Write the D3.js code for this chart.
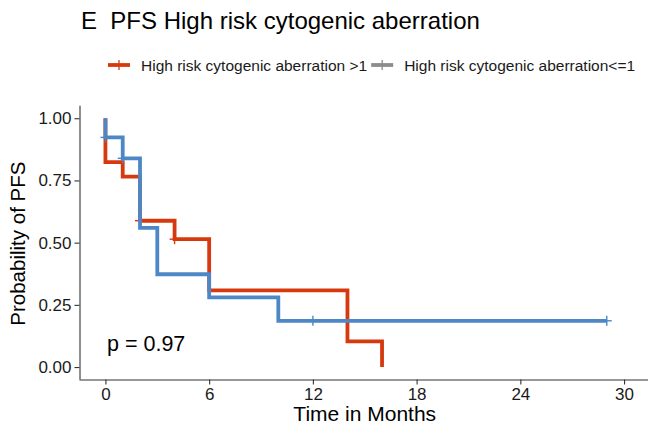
<!DOCTYPE html>
<html>
<head>
<meta charset="utf-8">
<script src="https://cdn.jsdelivr.net/npm/d3@7"></script>
<style>
  body { margin: 0; background: #fff; }
  svg { display: block; font-family: "Liberation Sans", Arial, sans-serif; }
</style>
</head>
<body>
<div id="chart"></div>
<script>
// KM curves
const groups = ['High risk cytogenic aberration >1', 'High risk cytogenic aberration<=1'];
const colors = ['#d7390f', '#4d87c6'];
const legendColors = ['#d7390f', '#8c8c8c'];

const redTimes = [0, 0, 1, 2, 4, 6, 14, 16];
const redSurv = [1, 0.824, 0.765, 0.588, 0.514, 0.308, 0.103, 0];
const redCensorTimes = [2, 4];
const redCensorSurv = [0.588, 0.514];

const blueTimes = [0, 0, 1, 2, 3, 6, 10, 29];
const blueSurv = [1, 0.923, 0.839, 0.559, 0.373, 0.280, 0.186, 0.186];
const blueCensorTimes = [0, 1, 12, 29];
const blueCensorSurv = [0.923, 0.839, 0.186, 0.186];

const xTicks = [0, 6, 12, 18, 24, 30];
const yTicks = [0, 0.25, 0.5, 0.75, 1];

const width = 648, height = 431;
const svg = d3.select('#chart').append('svg')
  .attr('width', width)
  .attr('height', height);

const x = d3.scaleLinear().domain([-1.5, 31.5]).range([79.5, 650]);
const y = d3.scaleLinear().domain([-0.05, 1.05]).range([379.5, 105.8]);

// title
svg.append('text')
  .attr('x', 81).attr('y', 29)
  .attr('font-size', 24)
  .attr('fill', '#000')
  .style('white-space', 'pre')
  .text('E  PFS High risk cytogenic aberration');

// legend
const legend = svg.append('g');
let lx = 108;
groups.forEach((g, i) => {
  legend.append('line')
    .attr('x1', lx).attr('x2', lx + 22).attr('y1', 65).attr('y2', 65)
    .attr('stroke', legendColors[i]).attr('stroke-width', 3.8);
  legend.append('line')
    .attr('x1', lx + 11).attr('x2', lx + 11).attr('y1', 60).attr('y2', 70)
    .attr('stroke', legendColors[i]).attr('stroke-width', 1.3);
  const t = legend.append('text')
    .attr('x', lx + 33).attr('y', 70.5)
    .attr('font-size', 15.5).attr('fill', '#1a1a1a')
    .text(g);
  lx = lx + 33 + t.node().getComputedTextLength() + 4;
});

// axes
const xAxis = svg.append('g')
  .attr('transform', `translate(0,${y(-0.05)})`)
  .call(d3.axisBottom(x).tickValues(xTicks).tickSize(5).tickPadding(3));
const yAxis = svg.append('g')
  .attr('transform', `translate(${x(-1.5)},0)`)
  .call(d3.axisLeft(y).tickValues(yTicks).tickSize(5).tickPadding(3).tickFormat(d3.format('.2f')));

[xAxis, yAxis].forEach(a => {
  a.select('.domain').attr('stroke', '#333').attr('stroke-width', 1.1);
  a.selectAll('.tick line').attr('stroke', '#333').attr('stroke-width', 1.1);
  a.selectAll('.tick text').attr('font-size', 17).attr('fill', '#1a1a1a')
    .style('font-family', '"Liberation Sans", Arial, sans-serif');
});
yAxis.select('.domain').attr('d', `M0.5,${y(1.05)}V${y(-0.05)}`);
xAxis.select('.domain').attr('d', `M${x(-1.5)},0.5H${width}`);

// axis titles
svg.append('text')
  .attr('x', (x(-1.5) + 650) / 2).attr('y', 421)
  .attr('text-anchor', 'middle')
  .attr('font-size', 21).attr('fill', '#000')
  .text('Time in Months');
svg.append('text')
  .attr('transform', `translate(25,${(y(1.05) + y(-0.05)) / 2 + 1}) rotate(-90)`)
  .attr('text-anchor', 'middle')
  .attr('font-size', 20.5).attr('fill', '#000')
  .text('Probability of PFS');

// curves
const line = d3.line()
  .x(d => x(d[0]))
  .y(d => y(d[1]))
  .curve(d3.curveStepAfter);

const curves = [
  { times: redTimes, surv: redSurv, ct: redCensorTimes, cs: redCensorSurv },
  { times: blueTimes, surv: blueSurv, ct: blueCensorTimes, cs: blueCensorSurv }
];

curves.forEach((c, i) => {
  svg.append('path')
    .datum(d3.zip(c.times, c.surv))
    .attr('fill', 'none')
    .attr('stroke', colors[i])
    .attr('stroke-width', 3.8)
    .attr('d', line);
  const cg = svg.append('g').attr('stroke', colors[i]).attr('stroke-width', 1.4);
  d3.zip(c.ct, c.cs).forEach(p => {
    cg.append('line')
      .attr('x1', x(p[0]) - 5).attr('x2', x(p[0]) + 5)
      .attr('y1', y(p[1])).attr('y2', y(p[1]));
    cg.append('line')
      .attr('x1', x(p[0])).attr('x2', x(p[0]))
      .attr('y1', y(p[1]) - 5).attr('y2', y(p[1]) + 5);
  });
});

// p value
svg.append('text')
  .attr('x', 107).attr('y', 351)
  .attr('font-size', 21.5).attr('fill', '#000')
  .text('p = 0.97');
</script>
</body>
</html>
